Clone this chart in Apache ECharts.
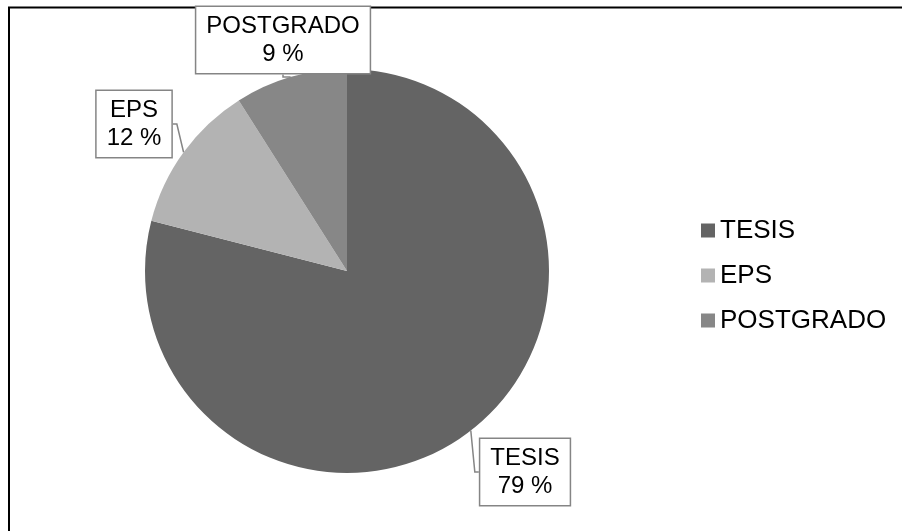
<!DOCTYPE html>
<html>
<head>
<meta charset="utf-8">
<script src="https://cdn.jsdelivr.net/npm/echarts@6/dist/echarts.min.js"></script>
<style>
  html, body { margin: 0; padding: 0; background: #fff; }
  #chart { width: 902px; height: 531px; }
</style>
</head>
<body>
<div id="chart"></div>
<script>
// data
const categories = ['TESIS', 'EPS', 'POSTGRADO'];
const values = [79, 12, 9];
const colors = ['#646464', '#b3b3b3', '#878787'];

// where each callout box sits (center of the box)
const labelSpots = [[525, 472], [134, 124], [283, 40]];

const myChart = echarts.init(document.getElementById('chart'));

const option = {
  animation: false,
  color: colors,
  graphic: [
    {
      type: 'rect',
      shape: { x: 9, y: 7.5, width: 1000, height: 1000 },
      style: { fill: 'none', stroke: '#000', lineWidth: 2 }
    }
  ],
  legend: {
    orient: 'vertical',
    left: 696,
    top: 212,
    itemWidth: 14,
    itemHeight: 14,
    itemGap: 18,
    icon: 'rect',
    data: categories,
    textStyle: {
      fontFamily: 'Liberation Sans, Arial, sans-serif',
      fontSize: 26,
      lineHeight: 27,
      color: '#000'
    }
  },
  series: [
    {
      type: 'pie',
      center: [347, 271],
      radius: 202,
      startAngle: 90,
      clockwise: true,
      data: categories.map((name, i) => ({ name: name, value: values[i] })),
      itemStyle: { borderWidth: 0 },
      emphasis: { disabled: true },
      label: {
        show: true,
        formatter: '{b}\n{c} %',
        fontFamily: 'Liberation Sans, Arial, sans-serif',
        fontSize: 24,
        lineHeight: 28,
        color: '#000',
        align: 'center',
        backgroundColor: '#fff',
        borderColor: '#858585',
        borderWidth: 1.5,
        padding: [5, 10]
      },
      labelLine: {
        show: true,
        length: 4,
        length2: 4,
        lineStyle: { color: '#858585', width: 1.5 }
      },
      labelLayout: function (params) {
        const p = labelSpots[params.dataIndex];
        return {
          x: p[0],
          y: p[1],
          align: 'center',
          verticalAlign: 'middle'
        };
      }
    }
  ]
};

option && myChart.setOption(option);
</script>
</body>
</html>
